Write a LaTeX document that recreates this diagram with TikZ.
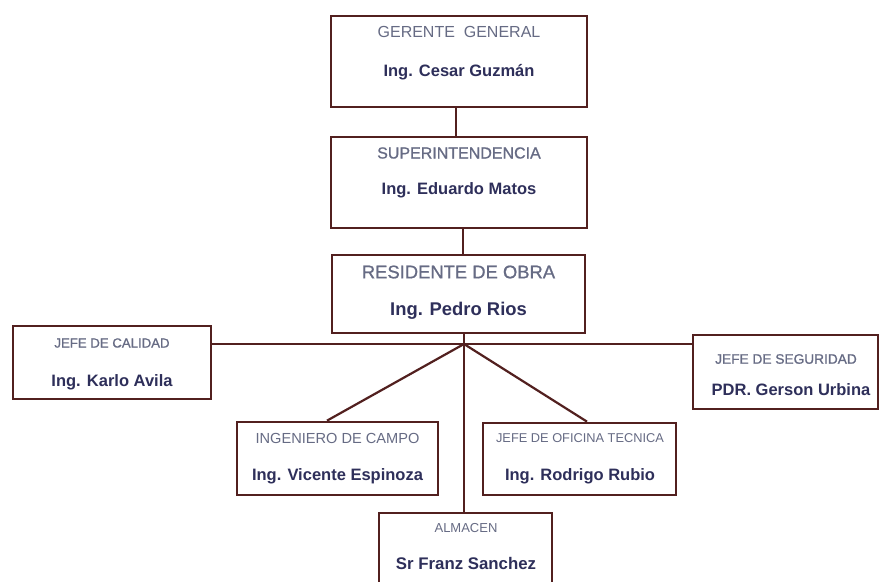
\documentclass[tikz,border=0pt]{standalone}
\usepackage{fontspec}
\setmainfont{Liberation Sans}
\newfontfamily\heavytitle[FakeBold=0.9]{Liberation Sans}
\definecolor{frame}{HTML}{52201F}
\definecolor{titlegray}{HTML}{666B84}
\definecolor{namenavy}{HTML}{2E2F5A}
\tikzset{
  orgbox/.style={draw=frame, line width=2.7pt, fill=white, inner sep=0pt},
  post/.style={text=titlegray, inner sep=0pt},
  person/.style={text=namenavy, inner sep=0pt, font=\bfseries},
  link/.style={draw=frame, line width=2.2pt}
}
\newcommand{\fs}[1]{\fontsize{#1}{#1}\selectfont}
\begin{document}
\begin{tikzpicture}[x=1pt,y=-1pt]
  \useasboundingbox (0,0) rectangle (880,581);
  \clip (0,0) rectangle (880,581);
  \fill[white] (0,0) rectangle (880,581);

  % boxes
  \node[orgbox, minimum width=256pt, minimum height=91pt] (gg) at (459,61.5) {};
  \node[orgbox, minimum width=256pt, minimum height=91pt] (si) at (459,182.5) {};
  \node[orgbox, minimum width=253pt, minimum height=78pt] (ro) at (458.5,294) {};
  \node[orgbox, minimum width=198pt, minimum height=73pt] (jc) at (112,362.5) {};
  \node[orgbox, minimum width=185pt, minimum height=74pt] (js) at (785.5,372) {};
  \node[orgbox, minimum width=201pt, minimum height=73pt] (ic) at (337.5,458.5) {};
  \node[orgbox, minimum width=193pt, minimum height=72pt] (jo) at (579.5,459) {};
  \node[orgbox, minimum width=173pt, minimum height=90pt] (al) at (465.5,558) {};

  % texts
  \node[post, font=\fs{16}] (ggt) at (459,32) {GERENTE\ \ GENERAL};
  \node[person, font=\bfseries\fs{16.5}] (ggn) at (459,72) {Ing. Cesar Guzmán};
  \node[post, font=\heavytitle\fs{16}] (sit) at (459,153) {SUPERINTENDENCIA};
  \node[person, font=\bfseries\fs{16.5}] (sin) at (459,190) {Ing. Eduardo Matos};
  \node[post, font=\heavytitle\fs{18.4}] (rot) at (458.5,272) {RESIDENTE DE OBRA};
  \node[person, font=\bfseries\fs{18.4}] (ron) at (458.5,311) {Ing. Pedro Rios};
  \node[post, font=\heavytitle\fs{13.2}] (jct) at (112,343) {JEFE DE CALIDAD};
  \node[person, font=\bfseries\fs{16.5}] (jcn) at (112,382) {Ing. Karlo Avila};
  \node[post, font=\heavytitle\fs{13.7}] (jst) at (786,359) {JEFE DE SEGURIDAD};
  \node[person, font=\bfseries\fs{16.5}] (jsn) at (791,390) {PDR. Gerson Urbina};
  \node[post, font=\fs{14.6}] (ict) at (337.5,438) {INGENIERO DE CAMPO};
  \node[person, font=\bfseries\fs{16.5}] (icn) at (337.5,476) {Ing. Vicente Espinoza};
  \node[post, font=\fs{12.8}] (jot) at (580,438) {JEFE DE OFICINA TECNICA};
  \node[person, font=\bfseries\fs{16.5}] (jon) at (580,476) {Ing. Rodrigo Rubio};
  \node[post, font=\fs{13}] (alt) at (466,528) {ALMACEN};
  \node[person, font=\bfseries\fs{16.8}] (aln) at (466,563) {Sr Franz Sanchez};

  % junction under the site resident
  \coordinate (hub) at (464,344);

  % connectors
  \draw[link] (gg.south -| 456,0) -- (si.north -| 456,0);
  \draw[link] (si.south -| 463,0) -- (ro.north -| 463,0);
  \draw[link] (ro.south -| hub) -- (hub);
  \draw[link] (jc.east |- hub) -- (js.west |- hub);
  \draw[link] (hub) -- (ic.north -| 327,0);
  \draw[link] (hub) -- (jo.north -| 587,0);
  \draw[link] (hub) -- (al.north -| hub);
\end{tikzpicture}
\end{document}
